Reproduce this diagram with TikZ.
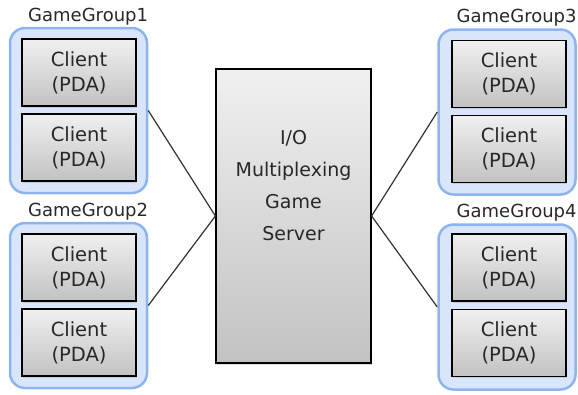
\documentclass[tikz,border=0pt]{standalone}
\usepackage{tikz}
\usepackage{xcolor}
\usepackage{fontspec}
\setmainfont{DejaVu Sans}
\usetikzlibrary{shadows, positioning}
\definecolor{groupfill}{RGB}{216,229,250}
\definecolor{groupedge}{RGB}{141,180,238}
\definecolor{boxtop}{RGB}{240,240,240}
\definecolor{boxbottom}{RGB}{194,194,194}
\definecolor{linkcolor}{RGB}{50,50,50}
\definecolor{textcolor}{RGB}{40,40,40}
\tikzstyle{group} = [rectangle, draw=groupedge, fill=groupfill, line width=2.5pt, minimum width=137pt, minimum height=165pt, rounded corners=15pt]
\tikzstyle{client} = [rectangle, draw=black, line width=1.2pt, top color=boxtop, bottom color=boxbottom, minimum width=114pt, minimum height=67pt, align=center, text=textcolor, font=\fontsize{19.5}{25}\selectfont, drop shadow={opacity=0.25, shadow xshift=1pt, shadow yshift=-1.5pt}]
\tikzstyle{server} = [rectangle, draw=black, line width=1.2pt, top color=boxtop, bottom color=boxbottom, minimum width=155pt, minimum height=294pt, drop shadow={opacity=0.3, shadow xshift=1pt, shadow yshift=-2pt}]
\tikzstyle{grouplabel} = [inner sep=0pt, text=textcolor, font=\fontsize{18}{20}\selectfont, anchor=south east, yshift=1.5pt]
\tikzstyle{link} = [line width=1.2pt, draw=linkcolor]

\begin{document}
\begin{tikzpicture}[x=1pt, y=-1pt]
    \useasboundingbox (0,0) rectangle (578,394);

    % server in the middle
    \node[server] (srv) at (293.5, 216) {};
    \node[align=center, text=textcolor, font=\fontsize{19}{32}\selectfont] (srvtext) at (293.5, 186) {I/O\\Multiplexing\\Game\\Server};

    % left groups
    \node[group] (g1) at (78.5, 110.5) {};
    \node[grouplabel] (l1) at (g1.north east) {GameGroup1};
    \node[client] (c1a) at (79, 72.5) {Client\\(PDA)};
    \node[client] (c1b) at (79, 147.5) {Client\\(PDA)};

    \node[group] (g2) at (78.5, 305.5) {};
    \node[grouplabel] (l2) at (g2.north east) {GameGroup2};
    \node[client] (c2a) at (79, 267.5) {Client\\(PDA)};
    \node[client] (c2b) at (79, 342.5) {Client\\(PDA)};

    % right groups
    \node[group] (g3) at (507, 112) {};
    \node[grouplabel] (l3) at (g3.north east) {GameGroup3};
    \node[client] (c3a) at (509, 74) {Client\\(PDA)};
    \node[client] (c3b) at (509, 149) {Client\\(PDA)};

    \node[group] (g4) at (507, 307) {};
    \node[grouplabel] (l4) at (g4.north east) {GameGroup4};
    \node[client] (c4a) at (509, 267.5) {Client\\(PDA)};
    \node[client] (c4b) at (509, 343) {Client\\(PDA)};

    % links
    \draw[link] (g1.east) -- (srv.west);
    \draw[link] (g2.east) -- (srv.west);
    \draw[link] (srv.east) -- (g3.west);
    \draw[link] (srv.east) -- (g4.west);

\end{tikzpicture}
\end{document}
